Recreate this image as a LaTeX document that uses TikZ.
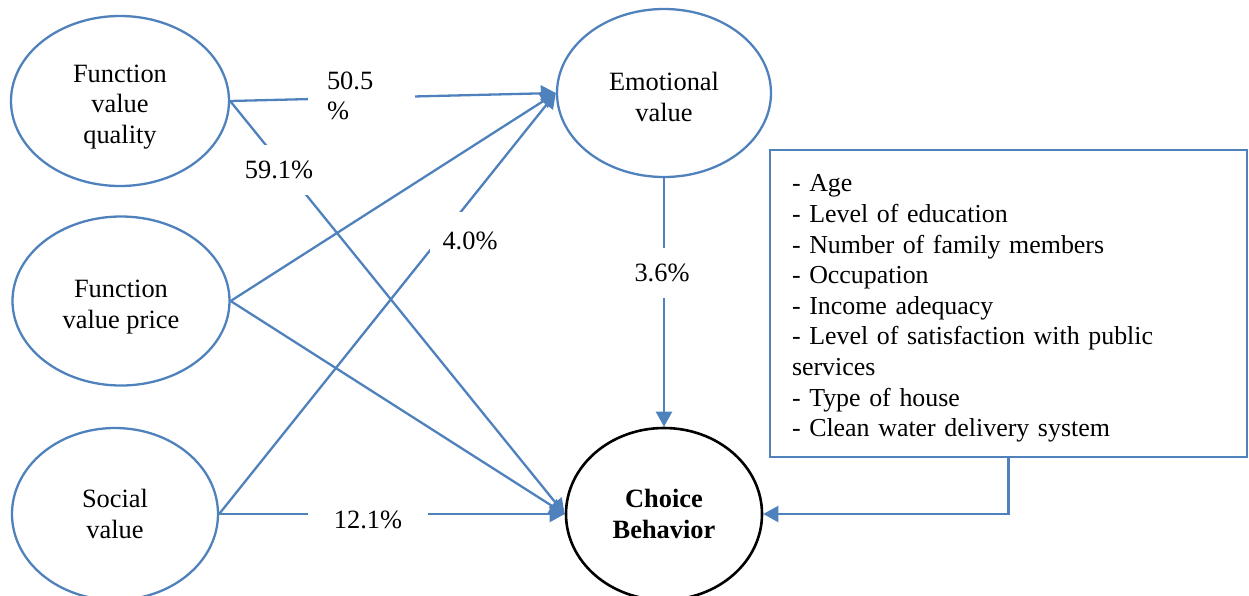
\documentclass[tikz,border=0pt]{standalone}
\usepackage{fontspec}
\setmainfont{Liberation Serif}
\usetikzlibrary{shapes.geometric,arrows.meta}
\definecolor{linkblue}{HTML}{4F81BD}
% invisible struts that set where a text block sits inside its shape
\newcommand{\txtTop}[1]{\rule{0pt}{#1pt}}
\newcommand{\txtBot}{\rule[-9.2pt]{0pt}{9.2pt}}
\begin{document}
\begin{tikzpicture}[x=1pt,y=-1pt,
  font=\fontsize{26.4}{30.6}\selectfont,
  construct/.style={ellipse, draw=linkblue, line width=2.3pt, inner sep=0pt, align=center},
  outcome/.style={ellipse, draw=black, line width=2.6pt, inner sep=0pt, align=center,
    font=\fontsize{26.4}{30.6}\selectfont\bfseries},
  link/.style={draw=linkblue, line width=2.3pt, -{Triangle[length=15pt,width=16pt]}},
  pct/.style={fill=white, inner sep=0pt, align=center},
]
\useasboundingbox (0,0) rectangle (1249,595);

% value constructs
\node[construct, minimum width=218pt, minimum height=170pt] (fvq) at (120,101)
  {\txtTop{32.6}Function\\value\\quality\txtBot};
\node[construct, minimum width=217pt, minimum height=169pt] (fvp) at (121,301)
  {\txtTop{32.6}Function\\value price\txtBot};
\node[construct, minimum width=206pt, minimum height=172pt] (soc) at (115,514)
  {\txtTop{27.6}Social\\value\txtBot};
\node[construct, minimum width=214pt, minimum height=168pt] (emo) at (664,93)
  {\txtTop{34.6}Emotional\\value\txtBot};
\node[outcome, minimum width=196pt, minimum height=172pt] (cb) at (664,514)
  {\txtTop{27.6}Choice\\Behavior\txtBot};

% control variables
\node[draw=linkblue, line width=2.3pt, minimum width=477pt, minimum height=307pt,
      text width=433pt, inner xsep=22pt, align=left,
      font=\fontsize{25.9}{30.6}\selectfont] (ctrl) at (1008.5,303.5)
  {\txtTop{30.6}- Age\\
   - Level of education\\
   - Number of family members\\
   - Occupation\\
   - Income adequacy\\
   - Level of satisfaction with public\\
   services\\
   - Type of house\\
   - Clean water delivery system\txtBot};

% paths
\draw[link] (fvq.east) -- (emo.west);
\draw[link] (fvq.east) -- (cb.west);
\draw[link] (fvp.east) -- (emo.west);
\draw[link] (fvp.east) -- (cb.west);
\draw[link] (soc.east) -- (emo.west);
\draw[link] (soc.east) -- (cb.west);
\draw[link] (emo.south) -- (cb.north);
\draw[link] (ctrl.south) |- (cb.east);

% path coefficients
\node[pct, text width=69pt, inner xsep=19pt, inner ysep=4pt, align=left] (p1) at (361.5,96) {50.5\\\%};
\node[pct, minimum width=70pt, minimum height=50pt] (p2) at (279,170) {59.1\%};
\node[pct, minimum width=80pt, minimum height=58pt] (p3) at (470,241) {4.0\%};
\node[pct, minimum width=120pt, minimum height=40pt] (p4) at (368,520) {12.1\%};
\node[pct, minimum width=60pt, minimum height=50pt] (p5) at (662,273) {3.6\%};
\end{tikzpicture}
\end{document}
